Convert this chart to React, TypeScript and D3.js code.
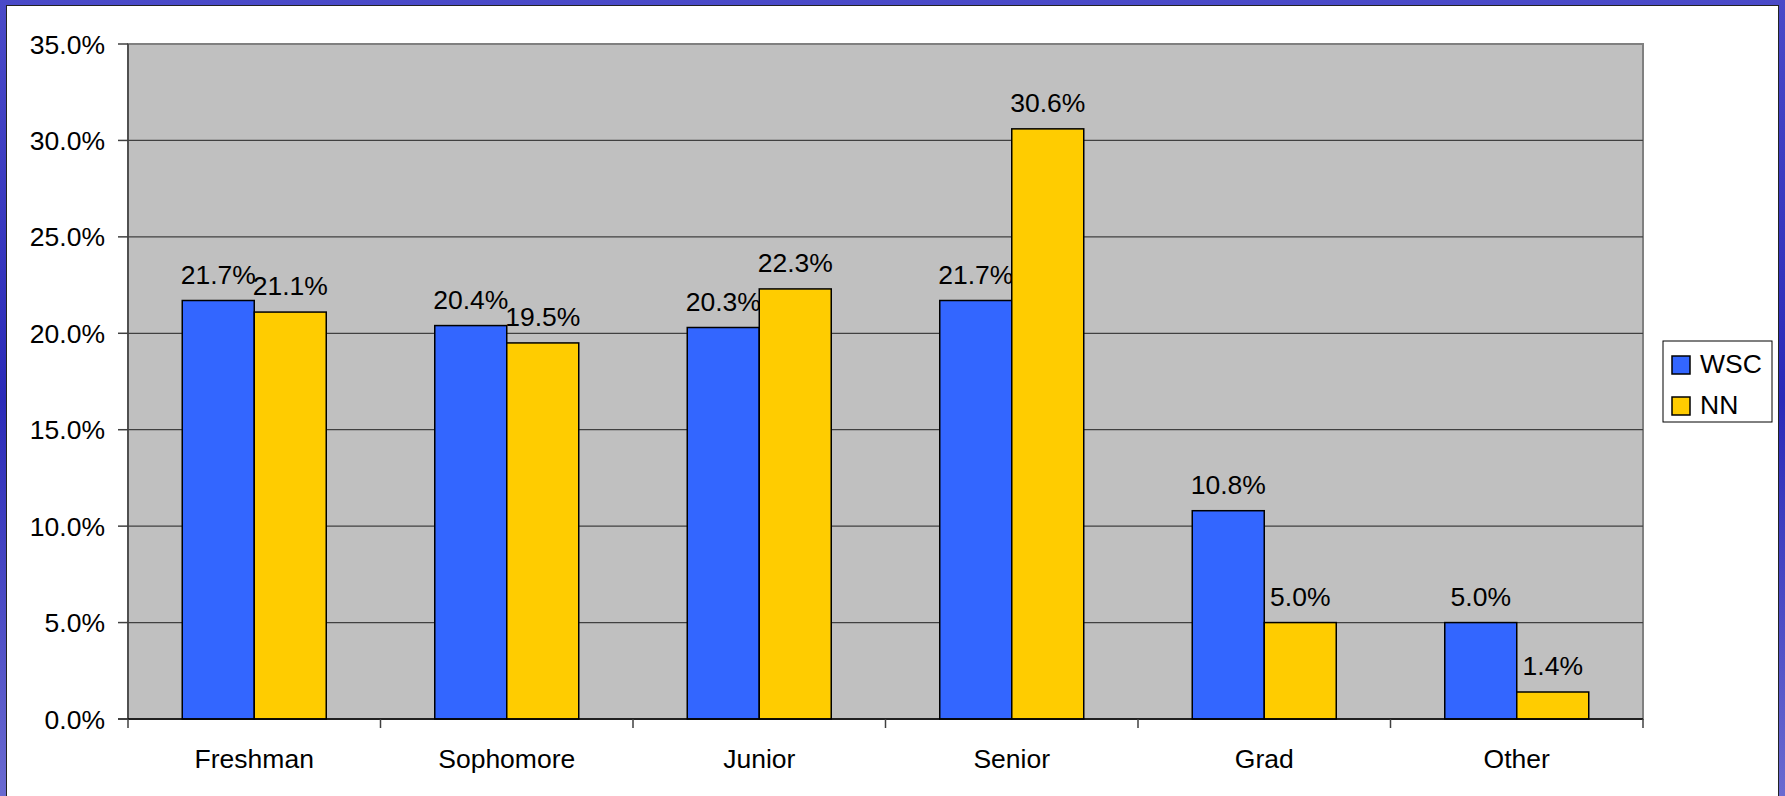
import * as d3 from 'd3';

const categories = ['Freshman', 'Sophomore', 'Junior', 'Senior', 'Grad', 'Other'];
const seriesNames = ['WSC', 'NN'];
const wscValues = [21.7, 20.4, 20.3, 21.7, 10.8, 5.0];
const nnValues = [21.1, 19.5, 22.3, 30.6, 5.0, 1.4];
const yTicks = [0, 5, 10, 15, 20, 25, 30, 35];
const colors = ['#3366FF', '#FFCC00'];

const W = 1785;
const H = 796;
const margin = { top: 44, right: 142, bottom: 77, left: 128 };
const FONT = '"Liberation Sans", Arial, sans-serif';
const FS = 26.5;

export default function App() {
  const x0 = d3.scaleBand().domain(categories).range([margin.left, W - margin.right]);
  const groupW = 144;
  const x1 = d3.scaleBand().domain(seriesNames).range([0, groupW]);
  const y = d3.scaleLinear().domain([0, 35]).range([H - margin.bottom, margin.top]);
  const series = [wscValues, nnValues];
  const plotL = margin.left;
  const plotR = W - margin.right;
  const plotT = margin.top;
  const plotB = H - margin.bottom;

  return (
    <svg width={W} height={H} style={{ position: 'absolute', left: 0, top: 0 }} fontFamily={FONT}>
      <defs>
        <linearGradient id="frame" x1="0" y1="0" x2="0" y2="1">
          <stop offset="0" stopColor="#4a4ac8" />
          <stop offset="0.5" stopColor="#2a2ab8" />
          <stop offset="1" stopColor="#6a6ad0" />
        </linearGradient>
      </defs>
      <rect x={0} y={0} width={W} height={H} fill="url(#frame)" />
      <rect x={6} y={5} width={1773} height={H} fill="#222" />
      <rect x={7} y={6} width={1771} height={H} fill="#fff" />

      {/* plot area */}
      <rect x={plotL} y={plotT} width={plotR - plotL} height={plotB - plotT} fill="#C0C0C0" stroke="#808080" strokeWidth={2} />

      {/* gridlines */}
      {yTicks.filter((t) => t > 0 && t < 35).map((t) => (
        <line key={t} x1={plotL} x2={plotR} y1={y(t)} y2={y(t)} stroke="#404040" strokeWidth={1.2} />
      ))}

      {/* bars */}
      {categories.map((c, i) => {
        const gx = x0(c)! + (x0.bandwidth() - groupW) / 2;
        return series.map((vals, s) => {
          const bx = gx + x1(seriesNames[s])!;
          return (
            <g key={c + s}>
              <rect x={bx} y={y(vals[i])} width={x1.bandwidth()} height={plotB - y(vals[i])} fill={colors[s]} stroke="#000" strokeWidth={1.5} />
              <text x={bx + x1.bandwidth() / 2} y={y(vals[i]) - 17} textAnchor="middle" fontSize={FS} fill="#000">
                {vals[i].toFixed(1)}%
              </text>
            </g>
          );
        });
      })}

      {/* axes */}
      <line x1={plotL} x2={plotL} y1={plotT} y2={plotB} stroke="#404040" strokeWidth={1.5} />
      <line x1={plotL - 10} x2={plotR} y1={plotB} y2={plotB} stroke="#000" strokeWidth={1.5} />
      {yTicks.map((t) => (
        <g key={t}>
          <line x1={plotL - 10} x2={plotL} y1={y(t)} y2={y(t)} stroke="#404040" strokeWidth={1.5} />
          <text x={105} y={y(t)} dy="0.36em" textAnchor="end" fontSize={FS} fill="#000">
            {t.toFixed(1)}%
          </text>
        </g>
      ))}
      {d3.range(categories.length + 1).map((k) => {
        const tx = plotL + k * x0.bandwidth();
        return <line key={k} x1={tx} x2={tx} y1={plotB} y2={plotB + 9} stroke="#404040" strokeWidth={1.5} />;
      })}
      {categories.map((c) => (
        <text key={c} x={x0(c)! + x0.bandwidth() / 2} y={768} textAnchor="middle" fontSize={FS} fill="#000">
          {c}
        </text>
      ))}

      {/* legend */}
      <rect x={1663} y={341} width={109} height={81} fill="#fff" stroke="#000" strokeWidth={1} />
      {seriesNames.map((n, s) => (
        <g key={n} transform={`translate(1672,${356 + s * 41})`}>
          <rect x={0} y={0} width={18} height={18} fill={colors[s]} stroke="#000" strokeWidth={1.5} />
          <text x={28} y={17} fontSize={FS} fill="#000">{n}</text>
        </g>
      ))}
    </svg>
  );
}
